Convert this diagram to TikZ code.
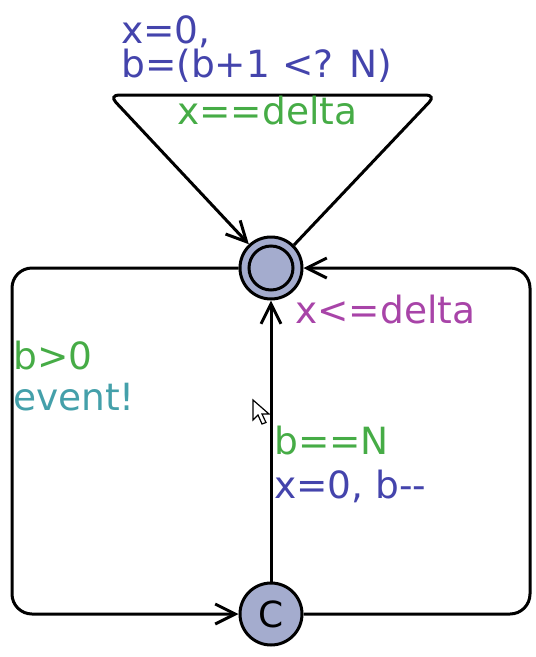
\documentclass[tikz,border=0pt]{standalone}
\usepackage{fontspec}
\setmainfont{DejaVu Sans}
\usetikzlibrary{arrows.meta}
\definecolor{ublue}{RGB}{68,68,172}
\definecolor{ugreen}{RGB}{70,172,70}
\definecolor{umag}{RGB}{168,68,168}
\definecolor{uteal}{RGB}{68,160,170}
\definecolor{ufill}{RGB}{164,172,206}
\tikzset{
  loc/.style={circle, draw=black, line width=3pt, fill=ufill, minimum size=62pt, inner sep=0pt},
  inner/.style={circle, draw=black, line width=3pt, minimum size=44pt, inner sep=0pt},
  edge/.style={draw=black, line width=3pt, -{Straight Barb[length=20pt,width=20pt,line width=3pt]}},
  lbl/.style={anchor=base west, inner sep=0pt, font=\fontsize{37.5}{40}\selectfont},
  cursor/.style={fill=white, draw=black, line width=1.2pt, line join=miter}
}
\begin{document}
\begin{tikzpicture}[x=1pt, y=-1pt]
\useasboundingbox (0,0) rectangle (536,657);
\node[loc] (A) at (271,268) {};
\node[inner] (Ain) at (271,268) {};
\node[loc, font=\fontsize{36}{40}\selectfont] (C) at (271,614) {C};
% self loop on A
\draw[edge, rounded corners=10pt] (A.45) -- (436,95) -- (109,95) -- (A.133);
% left edge A -> C
\draw[edge, rounded corners=20pt] (A.west) -- (12,268) -- (12,614) -- (C.west);
% right edge C -> A
\draw[edge, rounded corners=20pt] (C.east) -- (530,614) -- (530,268) -- (A.east);
% middle edge C -> A
\draw[edge] (C.north) -- (A.south);
% labels
\node[lbl, text=ublue] (t1) at (121,43) {x=0,};
\node[lbl, text=ublue] (t2) at (121,77) {b=(b+1 <? N)};
\node[lbl, text=ugreen] (t3) at (177,124) {x==delta};
\node[lbl, text=umag] (t4) at (295,323) {x<=delta};
\node[lbl, text=ugreen] (t5) at (13,369) {b>0};
\node[lbl, text=uteal] (t6) at (13,410) {event!};
\node[lbl, text=ugreen] (t7) at (274,454) {b==N};
\node[lbl, text=ublue] (t8) at (274,498) {x=0, b{-}{-}};
% mouse cursor
\draw[cursor] (253,400) -- (253,420) -- (258,415) -- (262,424) -- (266,422.5) -- (262,414) -- (269,414) -- cycle;
\end{tikzpicture}
\end{document}
